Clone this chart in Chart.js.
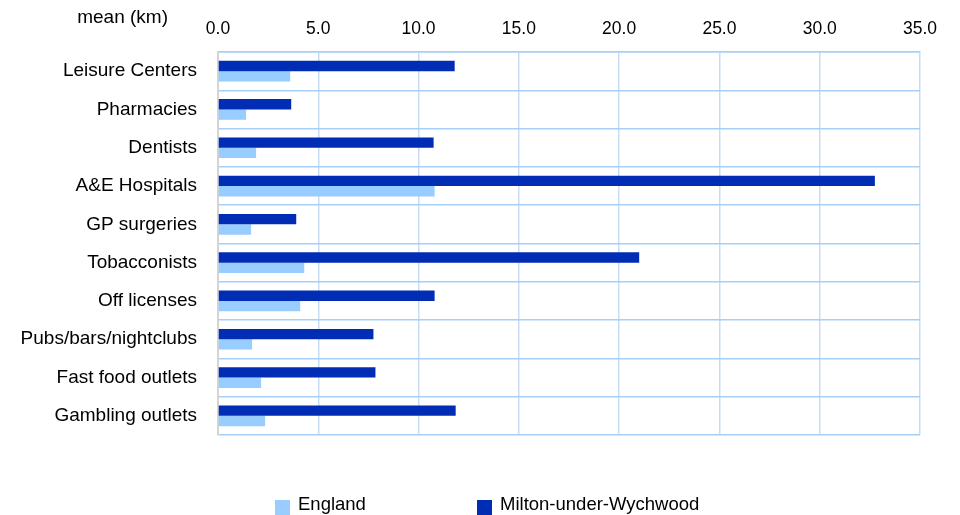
<!DOCTYPE html>
<html>
<head>
<meta charset="utf-8">
<script src="https://cdn.jsdelivr.net/npm/chart.js@4/dist/chart.umd.min.js"></script>
<style>
  html, body { margin: 0; padding: 0; background: #fff; }
  #wrap { width: 960px; height: 515px; }
</style>
</head>
<body>
<div id="wrap"><canvas id="distChart" width="960" height="515"></canvas></div>
<script>
// categories, top to bottom
const categories = ['Leisure Centers', 'Pharmacies', 'Dentists', 'A&E Hospitals', 'GP surgeries',
    'Tobacconists', 'Off licenses', 'Pubs/bars/nightclubs', 'Fast food outlets', 'Gambling outlets'];

// mean distance (km)
const miltonValues = [11.8, 3.65, 10.75, 32.75, 3.9, 21.0, 10.8, 7.75, 7.85, 11.85];
const englandValues = [3.6, 1.4, 1.9, 10.8, 1.65, 4.3, 4.1, 1.7, 2.15, 2.35];

const xTicks = [0, 5, 10, 15, 20, 25, 30, 35];

const FONT = "'Liberation Sans', Arial, sans-serif";
const DARK = '#002db3';
const LIGHT = '#99ccff';

// axis caption + legend, drawn on the canvas
const extrasPlugin = {
    id: 'extras',
    afterDraw(chart) {
        const ctx = chart.ctx;
        ctx.save();
        ctx.font = `19px ${FONT}`;
        ctx.fillStyle = '#000';
        ctx.textBaseline = 'middle';
        ctx.textAlign = 'right';
        ctx.fillText('mean (km)', 168, 18);

        // legend: England first, then Milton
        const items = [
            { label: chart.data.datasets[1].label, color: chart.data.datasets[1].backgroundColor, x: 275 },
            { label: chart.data.datasets[0].label, color: chart.data.datasets[0].backgroundColor, x: 477 }
        ];
        ctx.font = `18.5px ${FONT}`;
        ctx.textAlign = 'left';
        items.forEach(it => {
            ctx.fillStyle = it.color;
            ctx.fillRect(it.x, 500, 15, 15);
            ctx.fillStyle = '#000';
            ctx.fillText(it.label, it.x + 23, 505);
        });
        ctx.restore();
    }
};

new Chart(document.getElementById('distChart').getContext('2d'), {
    type: 'bar',
    data: {
        labels: categories,
        datasets: [
            {
                label: 'Milton-under-Wychwood',
                data: miltonValues,
                backgroundColor: DARK,
                categoryPercentage: 0.54,
                barPercentage: 1.0
            },
            {
                label: 'England',
                data: englandValues,
                backgroundColor: LIGHT,
                categoryPercentage: 0.54,
                barPercentage: 1.0
            }
        ]
    },
    options: {
        indexAxis: 'y',
        responsive: false,
        animation: false,
        layout: { padding: { left: 0, right: 40, top: 0, bottom: 80 } },
        plugins: {
            legend: { display: false },
            tooltip: { enabled: false }
        },
        scales: {
            x: {
                position: 'top',
                min: 0,
                max: 35,
                afterBuildTicks: scale => { scale.ticks = xTicks.map(v => ({ value: v })); },
                afterFit: scale => { scale.height = 52; },
                ticks: {
                    color: '#000',
                    font: { family: FONT, size: 17.5 },
                    padding: 12,
                    maxRotation: 0,
                    callback: v => Number(v).toFixed(1)
                },
                grid: { color: '#c7ddf5', lineWidth: 1.5, drawTicks: false },
                border: { color: '#a8d0f8', width: 1.5 }
            },
            y: {
                afterFit: scale => { scale.width = 218; },
                ticks: {
                    color: '#000',
                    font: { family: FONT, size: 19 },
                    padding: 21
                },
                grid: { color: '#a6cff8', lineWidth: 1.6, drawTicks: false },
                border: { color: '#d4d4d4', width: 2 }
            }
        }
    },
    plugins: [extrasPlugin]
});
</script>
</body>
</html>
